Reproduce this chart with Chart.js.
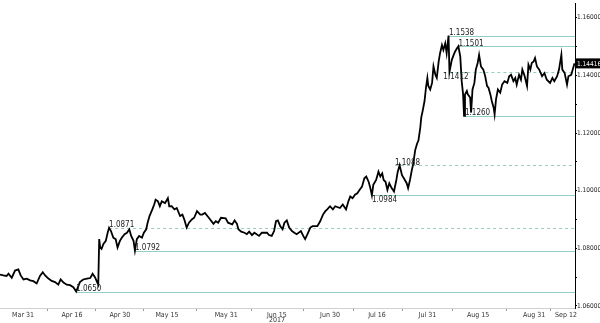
<!DOCTYPE html>
<html>
<head>
<meta charset="utf-8">
<script src="https://cdn.jsdelivr.net/npm/chart.js@4.4.1/dist/chart.umd.min.js"></script>
<style>
  html, body { margin: 0; padding: 0; background: #fff; }
  #wrap { width: 600px; height: 323px; }
</style>
</head>
<body>
<div id="wrap"><canvas id="fxChart" width="600" height="323"></canvas></div>
<script>
// trading-day index (0 = Mar 31 2017) and EUR/USD rate
const days = [
  -4.9, -4.2, -3.5, -3.1, -2.4, -1.7, -1.0, -0.5, 0.1, 0.8, 1.5, 2.2, 2.9, 3.6, 4.2, 4.7,
  5.4, 6.1, 6.8, 7.5, 8.0, 8.6, 9.3, 10.0, 10.7, 11.3, 12.1, 12.8, 13.6, 14.3, 14.8, 15.3,
  15.8, 16.0, 16.2, 16.4, 16.7, 17.1, 17.6, 18.0, 18.3, 18.7, 19.2, 19.7, 20.1, 20.6, 21.0, 21.6,
  22.1, 22.6, 23.0, 23.5, 23.8, 24.2, 24.7, 25.3, 25.7, 26.2, 26.5, 26.9, 27.5, 27.9, 28.2, 28.7,
  29.1, 29.5, 30.2, 30.8, 31.1, 31.6, 32.2, 32.7, 33.4, 33.9, 34.3, 34.8, 35.3, 35.9, 36.4, 37.0,
  37.7, 38.1, 38.7, 39.8, 40.5, 41.0, 41.5, 42.1, 43.1, 43.6, 44.5, 45.0, 45.5, 45.8, 46.4, 47.1,
  47.6, 48.1, 48.7, 49.2, 50.2, 50.8, 51.9, 52.3, 52.9, 53.4, 53.8, 54.2, 54.7, 55.2, 55.6, 56.1,
  56.6, 57.2, 57.7, 58.2, 59.1, 59.6, 60.0, 60.5, 61.1, 61.6, 62.6, 63.2, 63.8, 64.3, 64.7, 65.3,
  65.9, 66.4, 67.4, 68.0, 68.7, 69.2, 69.6, 70.1, 70.6, 71.1, 71.6, 72.1, 72.6, 73.0, 73.5, 73.8,
  74.2, 74.5, 75.1, 75.6, 76.0, 76.4, 76.7, 77.1, 77.5, 77.9, 78.4, 78.9, 79.4, 79.7, 80.1, 80.6,
  81.0, 81.6, 81.9, 82.3, 82.7, 83.0, 83.4, 83.8, 84.1, 84.5, 84.7, 85.0, 85.4, 85.7, 86.0, 86.2,
  86.6, 87.0, 87.3, 87.7, 88.0, 88.4, 88.7, 89.1, 89.4, 89.8, 90.1, 90.5, 90.7, 91.2, 91.6, 91.9,
  92.3, 92.6, 93.0, 93.3, 93.6, 93.8, 94.0, 94.4, 94.6, 95.1, 95.3, 95.6, 96.0, 96.3, 96.7, 97.0,
  97.4, 97.9, 98.3, 98.7, 99.0, 99.4, 99.7, 100.1, 100.3, 100.6, 101.0, 101.5, 101.9, 102.4, 103.0, 103.4,
  103.8, 104.3, 104.7, 105.0, 105.5, 105.9, 106.2, 106.7, 107.2, 107.5, 107.9, 108.2, 108.6, 108.9, 109.3, 109.8,
  110.4, 110.9, 111.4, 112.1, 112.6, 113.0, 113.6, 114.0, 114.5, 114.7, 115.2, 115.7, 116.0, 116.6, 117.1, 117.3
];
const rates = [
  1.0709, 1.0706, 1.0704, 1.0712, 1.0698, 1.0723, 1.0727, 1.0706, 1.0692, 1.0695, 1.0689, 1.0686, 1.0678, 1.0704, 1.0717, 1.0706,
  1.0695, 1.0687, 1.0683, 1.0674, 1.0692, 1.0681, 1.0674, 1.0672, 1.0665, 1.0650, 1.0683, 1.0692, 1.0695, 1.0697, 1.0712, 1.0700,
  1.0681, 1.0674, 1.0832, 1.0803, 1.0798, 1.0815, 1.0826, 1.0854, 1.0871, 1.0860, 1.0837, 1.0832, 1.0803, 1.0826, 1.0837, 1.0849,
  1.0854, 1.0866, 1.0843, 1.0826, 1.0792, 1.0832, 1.0843, 1.0837, 1.0854, 1.0866, 1.0889, 1.0912, 1.0935, 1.0952, 1.0969, 1.0963,
  1.0946, 1.0963, 1.0957, 1.0974, 1.0946, 1.0946, 1.0935, 1.0940, 1.0912, 1.0917, 1.0900, 1.0872, 1.0889, 1.0900, 1.0906, 1.0929,
  1.0917, 1.0917, 1.0923, 1.0900, 1.0885, 1.0894, 1.0889, 1.0906, 1.0904, 1.0889, 1.0883, 1.0897, 1.0885, 1.0866, 1.0858, 1.0854,
  1.0849, 1.0858, 1.0846, 1.0854, 1.0843, 1.0854, 1.0854, 1.0846, 1.0843, 1.0860, 1.0894, 1.0897, 1.0877, 1.0866, 1.0889, 1.0897,
  1.0872, 1.0860, 1.0854, 1.0849, 1.0860, 1.0843, 1.0832, 1.0849, 1.0872, 1.0877, 1.0877, 1.0894, 1.0917, 1.0929, 1.0935, 1.0946,
  1.0935, 1.0946, 1.0940, 1.0952, 1.0935, 1.0963, 1.0980, 1.0974, 1.0986, 1.0991, 1.1003, 1.1014, 1.1043, 1.1049, 1.1031, 1.1014,
  1.0984, 1.1020, 1.1037, 1.1066, 1.1049, 1.1060, 1.1037, 1.1031, 1.1003, 1.1026, 1.1009, 1.0997, 1.1037, 1.1066, 1.1088, 1.1054,
  1.1043, 1.1026, 1.1009, 1.1037, 1.1072, 1.1094, 1.1140, 1.1163, 1.1174, 1.1220, 1.1254, 1.1277, 1.1311, 1.1357, 1.1391, 1.1363,
  1.1351, 1.1374, 1.1431, 1.1402, 1.1391, 1.1448, 1.1477, 1.1505, 1.1488, 1.1511, 1.1477, 1.1538, 1.1412, 1.1454, 1.1471, 1.1483,
  1.1494, 1.1501, 1.1465, 1.1380, 1.1334, 1.1260, 1.1334, 1.1346, 1.1334, 1.1323, 1.1271, 1.1351, 1.1374, 1.1420, 1.1443, 1.1471,
  1.1431, 1.1420, 1.1397, 1.1363, 1.1357, 1.1334, 1.1311, 1.1288, 1.1265, 1.1317, 1.1351, 1.1340, 1.1368, 1.1380, 1.1374, 1.1397,
  1.1402, 1.1380, 1.1391, 1.1368, 1.1402, 1.1385, 1.1420, 1.1397, 1.1363, 1.1437, 1.1420, 1.1443, 1.1448, 1.1460, 1.1431, 1.1420,
  1.1397, 1.1408, 1.1385, 1.1374, 1.1391, 1.1380, 1.1397, 1.1420, 1.1471, 1.1420, 1.1408, 1.1368, 1.1397, 1.1402, 1.1431, 1.1442
];

// x-axis labels
const tickDays = [0, 10.4, 20.6, 30.6, 43.2, 54, 65.3, 75.3, 86, 96.8, 108.7, 115.5];
const tickLabels = ['Mar 31', 'Apr 16', 'Apr 30', 'May 15', 'May 31', 'Jun 15', 'Jun 30', 'Jul 16', 'Jul 31', 'Aug 15', 'Aug 31', 'Sep 12'];
const yearLabel = '2017';
const yearDay = 54;

// y-axis ticks
const yTicks = [1.06, 1.07, 1.08, 1.09, 1.10, 1.11, 1.12, 1.13, 1.14, 1.15, 1.16];

// marked highs / lows
const levelValues = [1.0650, 1.0871, 1.0792, 1.0984, 1.1088, 1.1412, 1.1538, 1.1501, 1.1260];
const levelStart = [11.3, 18.3, 23.8, 74.2, 79.1, 89.4, 90.6, 92.6, 94.0];
const levelDashed = [false, true, false, false, true, true, false, false, false];
const lastPrice = 1.14416;

const labelBelow = [false, false, false, true, false, true, false, false, false];
const levelColor = '#8fd0c2';
const fontFamily = "'Liberation Sans Narrow', 'DejaVu Sans Condensed', Arial, sans-serif";

// tick marks sit between the date labels
const midTicks = tickDays.slice(0, -1).map((d, i) => (d + tickDays[i + 1]) / 2);

const levelsPlugin = {
    id: 'levels',
    beforeDatasetsDraw(chart) {
        const { ctx, chartArea, scales: { x, y } } = chart;
        ctx.save();
        ctx.lineWidth = 1;
        ctx.strokeStyle = levelColor;
        levelValues.forEach((v, i) => {
            const py = Math.round(y.getPixelForValue(v)) + 0.5;
            ctx.setLineDash(levelDashed[i] ? [3, 3] : []);
            ctx.beginPath();
            ctx.moveTo(x.getPixelForValue(levelStart[i]), py);
            ctx.lineTo(chartArea.right, py);
            ctx.stroke();
        });
        ctx.restore();
    },
    afterDatasetsDraw(chart) {
        const { ctx, chartArea, scales: { x, y } } = chart;
        ctx.save();
        ctx.font = '8px ' + fontFamily;
        ctx.fillStyle = '#222';
        ctx.textAlign = 'left';
        levelValues.forEach((v, i) => {
            const py = y.getPixelForValue(v);
            const px = x.getPixelForValue(levelStart[i]);
            ctx.textBaseline = labelBelow[i] ? 'top' : 'alphabetic';
            ctx.fillText(v.toFixed(4), px, labelBelow[i] ? py + 1 : py - 0.5);
        });

        // last price box
        const ly = y.getPixelForValue(lastPrice);
        ctx.fillStyle = '#000';
        ctx.fillRect(chartArea.right + 1, ly - 5, chart.width - chartArea.right - 1, 10);
        ctx.fillStyle = '#fff';
        ctx.textBaseline = 'middle';
        ctx.font = '6.5px ' + fontFamily;
        ctx.fillText(lastPrice.toFixed(5), chartArea.right + 2, ly + 0.5);

        // year under the x labels
        ctx.fillStyle = '#333';
        ctx.font = '7px ' + fontFamily;
        ctx.textAlign = 'center';
        ctx.textBaseline = 'alphabetic';
        ctx.fillText(yearLabel, x.getPixelForValue(yearDay), chart.height - 1);
        ctx.restore();
    }
};

const ctx = document.getElementById('fxChart').getContext('2d');
new Chart(ctx, {
    type: 'line',
    data: {
        datasets: [{
            data: days.map((d, i) => ({ x: d, y: rates[i] })),
            borderColor: '#000',
            borderWidth: 1.8,
            pointRadius: 0,
            tension: 0,
            fill: false
        }]
    },
    options: {
        responsive: false,
        animation: false,
        layout: { padding: 0 },
        plugins: { legend: { display: false }, tooltip: { enabled: false } },
        scales: {
            x: {
                type: 'linear',
                min: -4.9,
                max: 117.4,
                afterBuildTicks: s => { s.ticks = tickDays.concat(midTicks).sort((a, b) => a - b).map(v => ({ value: v })); },
                afterFit: s => { s.height = 15; },
                ticks: {
                    autoSkip: false,
                    maxRotation: 0,
                    padding: 0,
                    color: '#333',
                    font: { size: 7, family: fontFamily },
                    callback: v => {
                        const i = tickDays.indexOf(v);
                        return i >= 0 ? tickLabels[i] : '';
                    }
                },
                grid: {
                    drawOnChartArea: false,
                    drawTicks: true,
                    tickLength: 3,
                    color: c => (c.tick && tickDays.includes(c.tick.value)) ? 'rgba(0,0,0,0)' : '#999'
                },
                border: { display: true, color: '#d0d0d0' }
            },
            y: {
                position: 'right',
                min: 1.0593,
                max: 1.1648,
                afterBuildTicks: s => { s.ticks = yTicks.map(v => ({ value: v })); },
                afterFit: s => { s.width = 25; },
                ticks: {
                    padding: 0,
                    color: '#222',
                    font: { size: 6.5, family: fontFamily },
                    callback: v => (Math.round(v * 100) % 2 === 0) ? v.toFixed(5) : ''
                },
                grid: {
                    drawOnChartArea: false,
                    drawTicks: true,
                    tickLength: 2,
                    color: '#000'
                },
                border: { display: true, color: '#000' }
            }
        }
    },
    plugins: [levelsPlugin]
});
</script>
</body>
</html>
